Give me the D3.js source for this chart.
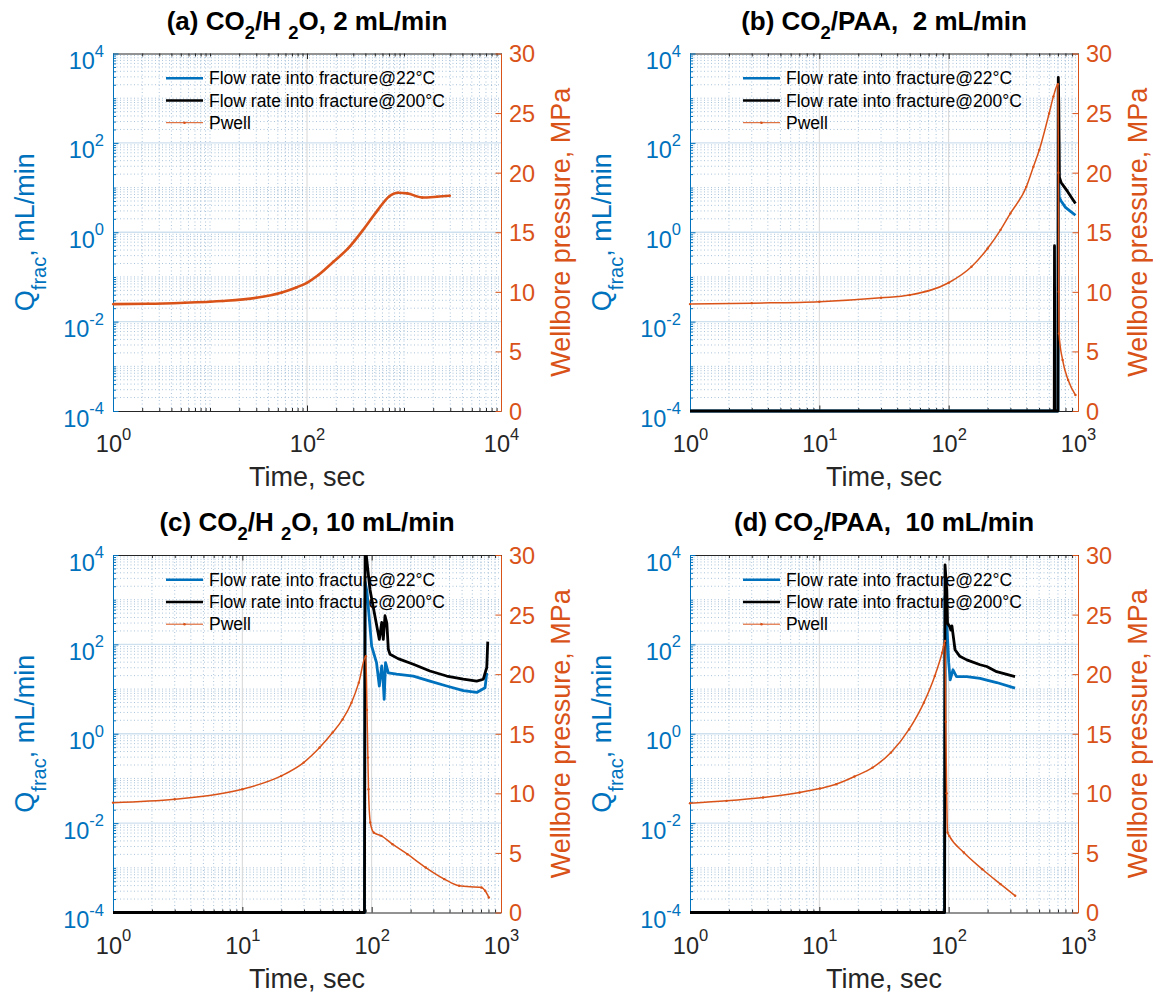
<!DOCTYPE html>
<html><head><meta charset="utf-8">
<script src="https://cdn.jsdelivr.net/npm/d3@7"></script>
<style>
body{margin:0;background:#fff}
text{font-family:"Liberation Sans",Arial,Helvetica,sans-serif;white-space:pre}
</style>
</head><body>
<svg id="chart" width="1153" height="997"></svg>
<script>
// ---------------- data ----------------
const legendLabels = ["Flow rate into fracture@22°C", "Flow rate into fracture@200°C", "Pwell"];
const titleA = [["(a) CO",0],["2",1],["/H ",0],["2",1],["O, 2 mL/min",0]];
const titleB = [["(b) CO",0],["2",1],["/PAA,  2 mL/min",0]];
const titleC = [["(c) CO",0],["2",1],["/H ",0],["2",1],["O, 10 mL/min",0]];
const titleD = [["(d) CO",0],["2",1],["/PAA,  10 mL/min",0]];
const xLabel = "Time, sec";
const yLeftLabel = [["Q",0],["frac",1],[", mL/min",0]];
const yRightLabel = "Wellbore pressure, MPa";

const timeMaxA = 1e4, timeMaxBCD = 1e3;
const timeTicksA = [1, 1e2, 1e4];
const timeTicksBCD = [1, 1e1, 1e2, 1e3];
const qTicks = [1e-4, 1e-2, 1, 1e2, 1e4];
const pTicks = [0, 5, 10, 15, 20, 25, 30];

// panel (a)
const pwellA = [[1,8.97],[2.3,9.0],[5.5,9.09],[10,9.17],[13.4,9.23],[30,9.5],[55,9.95],[77.5,10.37],[100,10.76],[131,11.41],[187,12.52],[265,13.64],[377,15.18],[536,16.86],[698,17.98],[869,18.31],[1082,18.26],[1538,17.92],[2187,17.98],[2972,18.06]];
const q22A = [];
const q200A = [];
// panel (b)
const pwellB = [[1,8.97],[3,9.05],[10,9.17],[30,9.5],[50,9.73],[100,10.76],[150,12.1],[200,13.64],[252,15.2],[300,16.58],[398,18.8],[452,20.5],[502,21.9],[598,24.97],[646,26.4],[700,27.43],[705,20],[710,10],[713,6.5],[760,4.28],[839,2.6],[956,1.34]];
const q22B = [[1,1e-4],[700,1e-4],[704,2000],[710,13.4],[716,6],[740,5],[800,3.6],[880,2.9],[956,2.4]];
const q200B = [[1,1e-4],[655,1e-4],[658,0.5],[662,1e-4],[700,1e-4],[704,2900],[710,800],[714,137],[718,17],[740,13],[780,10.5],[830,8.2],[890,6],[956,4.4]];
// panel (c)
const pwellC = [[1,9.22],[3,9.5],[10,10.34],[20,11.46],[29.8,12.58],[39.6,13.84],[49.9,15.1],[59.6,16.2],[69.8,17.6],[79.5,19.29],[90.2,21.5],[92,17],[93.5,13],[94.5,10.34],[97.6,7.55],[104,6.7],[119,6.43],[145,5.73],[189,4.89],[262,3.77],[365,2.8],[475,2.24],[706,2.1],[754,1.82],[805,1.26]];
const q22C = [[1,1e-4],[88,1e-4],[89,2500],[92,1500],[100,91],[109,39],[114.6,11.7],[119.6,33],[122,20],[125,5.9],[128,39],[134.5,23],[156,21.5],[210,19.5],[282,15],[380,11.7],[511,9.2],[649,8.4],[753,10.7],[776,23]];
const q200C = [[1,1e-4],[88,1e-4],[89,3e4],[91,9500],[97,1700],[114.6,129],[119.6,309],[123,129],[126.8,437],[131,300],[134.5,78],[138.6,60],[160,48],[210,36],[282,25.4],[380,19.6],[511,16.6],[649,15.1],[730,16.6],[760,25],[776,30],[790,115]];
// panel (d)
const pwellD = [[1,9.17],[1.92,9.37],[3.67,9.65],[7.04,10.07],[10.1,10.4],[13.5,10.76],[18.7,11.41],[25.8,12.16],[35.8,13.42],[49.5,15.38],[64.3,17.61],[78.1,19.85],[89,21.8],[93.7,22.79],[95,16],[96.5,10],[98,6.71],[101,6.43],[131,5.03],[182,3.63],[252,2.38],[327,1.4]];
const q22D = [[1,1e-4],[93,1e-4],[93.7,1200],[97,250],[100,40],[102.7,16],[108,27],[115,19],[138,19],[175,17.4],[197,15.8],[235,14],[326,10.5]];
const q200D = [[1,1e-4],[93,1e-4],[93.7,6000],[96.6,1660],[98,295],[102,250],[104,209],[106,260],[112,76],[122,54],[138,45],[175,35],[197,32],[235,24.5],[326,19]];

// ---------------- layout & style ----------------
const BLUE = "#0072BD", ORANGE = "#D95319", AXC = "#262626";
const FONT_TICK = 23.5, FONT_SUP = 16.5, FONT_LABEL = 27, FONT_TITLE = 26, FONT_LEG = 17.5;
const PW = 388, PH = 357.5;
const panels = [
  {left:113, top:53.5, title:titleA, xMax:timeMaxA, xTicks:timeTicksA, pw:pwellA, q22:q22A, q200:q200A, pwWidth:2.6},
  {left:690, top:53.5, title:titleB, xMax:timeMaxBCD, xTicks:timeTicksBCD, pw:pwellB, q22:q22B, q200:q200B, pwWidth:1.5},
  {left:113, top:555, title:titleC, xMax:timeMaxBCD, xTicks:timeTicksBCD, pw:pwellC, q22:q22C, q200:q200C, pwWidth:1.5},
  {left:690, top:555, title:titleD, xMax:timeMaxBCD, xTicks:timeTicksBCD, pw:pwellD, q22:q22D, q200:q200D, pwWidth:1.5}
];

const svg = d3.select("#chart");

function logMinors(lo, hi, majors){
  const out = [];
  for (let e = Math.round(Math.log10(lo)); e < Math.round(Math.log10(hi)); e++){
    for (let m = 1; m < 10; m++){
      const v = m * Math.pow(10, e);
      if (!majors.some(t => Math.abs(t / v - 1) < 1e-9)) out.push(v);
    }
  }
  return out;
}

function richText(sel, parts, subSize, subDy){
  let down = false;
  parts.forEach(([t, sub]) => {
    const ts = sel.append("tspan").text(t);
    if (sub){ ts.attr("font-size", subSize).attr("dy", subDy); down = true; }
    else if (down){ ts.attr("dy", -subDy); down = false; }
  });
}

panels.forEach((p, i) => {
  const L = p.left, T = p.top, R = L + PW, B = T + PH;
  const x = d3.scaleLog().domain([1, p.xMax]).range([L, R]);
  const yQ = d3.scaleLog().domain([1e-4, 1e4]).range([B, T]);
  const yP = d3.scaleLinear().domain([0, 30]).range([B, T]);
  const xMinor = logMinors(1, p.xMax, p.xTicks);
  const yMinor = logMinors(1e-4, 1e4, qTicks);
  const g = svg.append("g");

  // grid
  const grid = g.append("g");
  grid.selectAll(".gxm").data(xMinor).join("line")
    .attr("x1", d => x(d)).attr("x2", d => x(d)).attr("y1", T).attr("y2", B)
    .attr("stroke", "#86abcc").attr("stroke-opacity", 0.7).attr("stroke-width", 1).attr("stroke-dasharray", "1,2.5");
  grid.selectAll(".gym").data(yMinor).join("line")
    .attr("x1", L).attr("x2", R).attr("y1", d => yQ(d)).attr("y2", d => yQ(d))
    .attr("stroke", "#86abcc").attr("stroke-opacity", 0.7).attr("stroke-width", 1).attr("stroke-dasharray", "1,2.5");
  grid.selectAll(".gxM").data(p.xTicks.slice(1, -1)).join("line")
    .attr("x1", d => x(d)).attr("x2", d => x(d)).attr("y1", T).attr("y2", B)
    .attr("stroke", "#d6d6d6").attr("stroke-width", 1);
  grid.selectAll(".gyM").data(qTicks.slice(1, -1)).join("line")
    .attr("x1", L).attr("x2", R).attr("y1", d => yQ(d)).attr("y2", d => yQ(d))
    .attr("stroke", "#cfe1ef").attr("stroke-width", 1.3);

  // axes
  const styleAxis = (ax, col) => {
    ax.select(".domain").attr("stroke", col).attr("stroke-width", 1);
    ax.selectAll(".tick line").attr("stroke", col).attr("stroke-width", 1);
  };
  const bxm = g.append("g").attr("transform", `translate(0,${B})`)
    .call(d3.axisBottom(x).tickValues(xMinor).tickSizeInner(-3).tickSizeOuter(0).tickFormat(""));
  bxm.select(".domain").remove(); styleAxis(bxm, AXC);
  const bx = g.append("g").attr("transform", `translate(0,${B})`)
    .call(d3.axisBottom(x).tickValues(p.xTicks).tickSizeInner(-5.5).tickSizeOuter(0).tickFormat(""));
  styleAxis(bx, AXC);
  bx.selectAll(".tick text").attr("y", 41).attr("dy", null).attr("fill", AXC)
    .attr("font-size", FONT_TICK).attr("text-anchor", "middle")
    .each(function(d){
      const s = d3.select(this);
      s.append("tspan").text("10");
      s.append("tspan").text(String(Math.round(Math.log10(d)))).attr("font-size", FONT_SUP).attr("dy", -12.5);
    });
  const txm = g.append("g").attr("transform", `translate(0,${T})`)
    .call(d3.axisTop(x).tickValues(xMinor).tickSizeInner(-3).tickSizeOuter(0).tickFormat(""));
  txm.select(".domain").remove(); styleAxis(txm, AXC);
  const tx = g.append("g").attr("transform", `translate(0,${T})`)
    .call(d3.axisTop(x).tickValues(p.xTicks).tickSizeInner(-5.5).tickSizeOuter(0).tickFormat(""));
  styleAxis(tx, AXC); tx.selectAll(".tick text").remove();
  const lym = g.append("g").attr("transform", `translate(${L},0)`)
    .call(d3.axisLeft(yQ).tickValues(yMinor).tickSizeInner(-3).tickSizeOuter(0).tickFormat(""));
  lym.select(".domain").remove(); styleAxis(lym, BLUE);
  const ly = g.append("g").attr("transform", `translate(${L},0)`)
    .call(d3.axisLeft(yQ).tickValues(qTicks).tickSizeInner(-5.5).tickSizeOuter(0).tickFormat(""));
  styleAxis(ly, BLUE);
  ly.selectAll(".tick text").attr("x", -9).attr("y", 15).attr("dy", null).attr("fill", BLUE)
    .attr("font-size", FONT_TICK).attr("text-anchor", "end")
    .each(function(d){
      const s = d3.select(this);
      s.append("tspan").text("10");
      s.append("tspan").text(String(Math.round(Math.log10(d)))).attr("font-size", FONT_SUP).attr("dy", -12.5);
    });
  const ry = g.append("g").attr("transform", `translate(${R},0)`)
    .call(d3.axisRight(yP).tickValues(pTicks).tickSizeInner(-5.5).tickSizeOuter(0).tickPadding(8).tickFormat(d3.format("d")));
  styleAxis(ry, ORANGE);
  ry.selectAll(".tick text").attr("dy", "0.36em").attr("fill", ORANGE).attr("font-size", FONT_TICK).attr("text-anchor", "start");

  // title
  const tt = g.append("text").attr("x", (L + R) / 2).attr("y", T - 24)
    .attr("text-anchor", "middle").attr("font-weight", "bold").attr("font-size", FONT_TITLE).attr("fill", "#000");
  richText(tt, p.title, 18.5, 9);

  // axis labels
  g.append("text").attr("x", (L + R) / 2).attr("y", B + 75).attr("text-anchor", "middle")
    .attr("font-size", FONT_LABEL).attr("fill", AXC).text(xLabel);
  const yl = g.append("text").attr("transform", `translate(${L - 79.5},${(T + B) / 2}) rotate(-90)`)
    .attr("text-anchor", "middle").attr("font-size", FONT_LABEL).attr("fill", BLUE);
  richText(yl, yLeftLabel, 20, 12);
  g.append("text").attr("transform", `translate(${R + 69},${(T + B) / 2}) rotate(-90)`)
    .attr("text-anchor", "middle").attr("font-size", FONT_LABEL).attr("fill", ORANGE).text(yRightLabel);

  // legend
  const leg = g.append("g");
  const legCols = [BLUE, "#000", ORANGE];
  const legW = [2.6, 2.6, 1];
  legendLabels.forEach((lab, k) => {
    const yy = T + 24.8 + k * 22.2;
    leg.append("line").attr("x1", L + 53).attr("x2", L + 90).attr("y1", yy).attr("y2", yy)
      .attr("stroke", legCols[k]).attr("stroke-width", legW[k]);
    if (k === 2) leg.append("circle").attr("cx", L + 71.5).attr("cy", yy).attr("r", 1.3).attr("fill", ORANGE);
    leg.append("text").attr("x", L + 96).attr("y", yy).attr("dy", "0.35em")
      .attr("font-size", FONT_LEG).attr("fill", "#000").text(lab);
  });

  // data
  const cid = "clip" + i;
  svg.append("clipPath").attr("id", cid).append("rect")
    .attr("x", L - 2).attr("y", T).attr("width", PW + 4).attr("height", PH + 3);
  const dg = g.append("g").attr("clip-path", `url(#${cid})`);
  const lineQ = d3.line().x(d => x(d[0])).y(d => yQ(d[1]));
  const lineP = d3.line().x(d => x(d[0])).y(d => yP(d[1])).curve(d3.curveMonotoneX);
  if (p.q22.length) dg.append("path").datum(p.q22).attr("d", lineQ).attr("fill", "none")
    .attr("stroke", BLUE).attr("stroke-width", 2.8).attr("stroke-linejoin", "round");
  if (p.q200.length) dg.append("path").datum(p.q200).attr("d", lineQ).attr("fill", "none")
    .attr("stroke", "#000").attr("stroke-width", 2.8).attr("stroke-linejoin", "round");
  dg.append("path").datum(p.pw).attr("d", lineP).attr("fill", "none")
    .attr("stroke", ORANGE).attr("stroke-width", p.pwWidth).attr("stroke-linejoin", "round");
  dg.selectAll(".pwdot").data(p.pw).join("circle")
    .attr("cx", d => x(d[0])).attr("cy", d => yP(d[1])).attr("r", 1.2).attr("fill", ORANGE);
});
</script>
</body></html>
